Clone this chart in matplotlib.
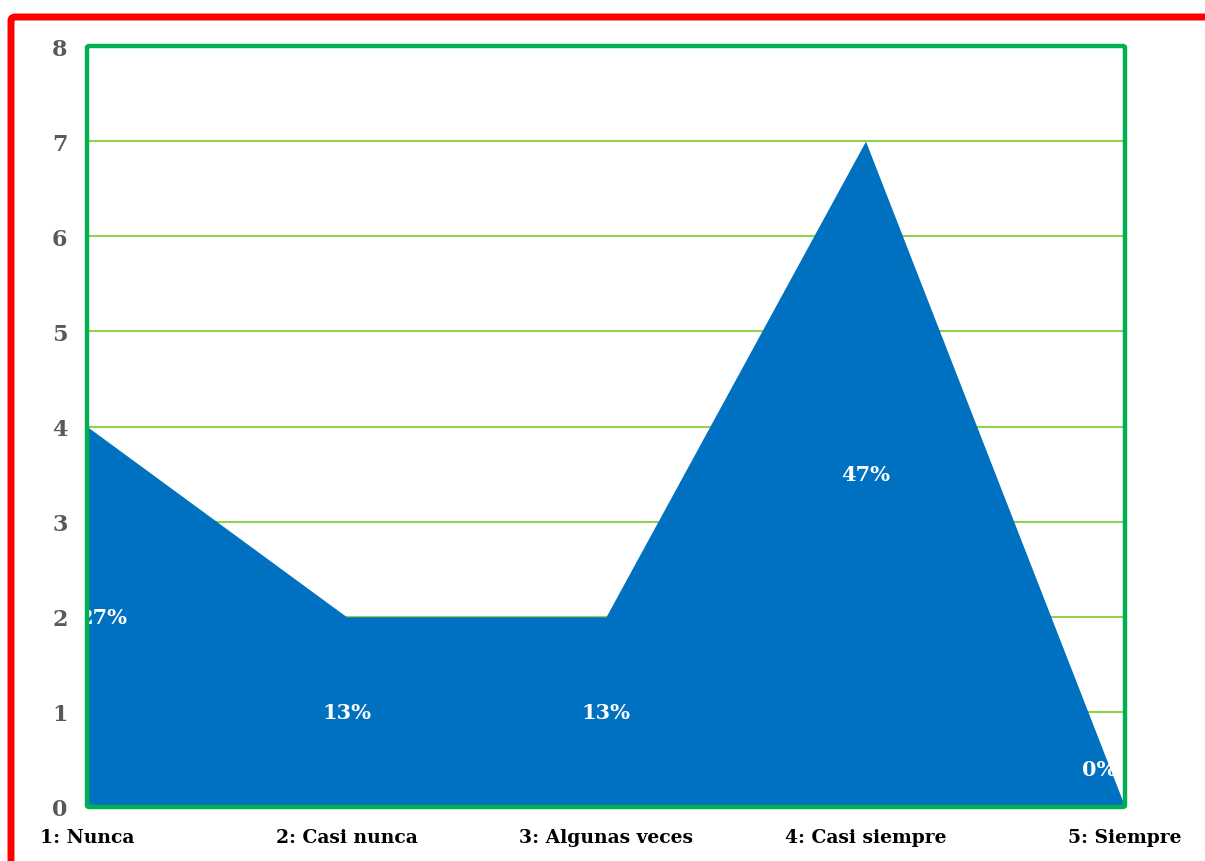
import matplotlib

matplotlib.use("Agg")
import matplotlib.pyplot as plt
from matplotlib.patches import FancyBboxPatch

categories = ["1: Nunca", "2: Casi nunca", "3: Algunas veces", "4: Casi siempre", "5: Siempre"]
counts = [4, 2, 2, 7, 0]
pct_labels = ["27%", "13%", "13%", "47%", "0%"]
# label anchor heights (data units) as placed in the original chart
label_y = [2.0, 1.0, 1.0, 3.5, 0.4]
label_dx = [0.06, 0.0, 0.0, 0.0, -0.1]

BLUE = "#0070C0"
GRID = "#92D050"
FRAME = "#00B050"
FONT = "DejaVu Serif"

fig = plt.figure(figsize=(12.05, 8.62), dpi=100)
ax = fig.add_axes([87 / 1205, 1 - 808 / 862, (1125 - 87) / 1205, (808 - 47) / 862])

x = list(range(len(categories)))
ax.fill_between(x, counts, 0, color=BLUE, linewidth=0, zorder=2)

for xi, yi, txt, dx in zip(x, label_y, pct_labels, label_dx):
    ax.text(xi + dx, yi, txt, ha="center", va="center", color="white",
            fontsize=15, fontweight="bold", family=FONT, zorder=3)

ax.set_xlim(0, 4)
ax.set_ylim(0, 8)
ax.set_yticks(range(0, 9))
ax.yaxis.grid(True, color=GRID, linewidth=1.5, zorder=1)
ax.set_axisbelow(True)
ax.set_xticks(x)
ax.set_xticklabels(categories)
ax.tick_params(axis="both", length=0)
ax.tick_params(axis="y", pad=14, colors="#595959")
ax.tick_params(axis="x", pad=15)
for lab in ax.get_yticklabels():
    lab.set_fontsize(16)
    lab.set_fontweight("bold")
    lab.set_family(FONT)
    lab.set_color("#595959")
for lab in ax.get_xticklabels():
    lab.set_fontsize(13.5)
    lab.set_fontweight("bold")
    lab.set_family(FONT)
    lab.set_color("black")

for side in ("top", "right", "left"):
    ax.spines[side].set_visible(False)
ax.spines["bottom"].set_color("#BFBFBF")
ax.spines["bottom"].set_linewidth(1.5)

# green plot-area frame
fig.patches.append(FancyBboxPatch(
    (87 / 1205, 1 - 808 / 862), (1125 - 87) / 1205, (808 - 47) / 862,
    boxstyle="round,pad=0,rounding_size=0.002", transform=fig.transFigure,
    fill=False, edgecolor=FRAME, linewidth=3.2, zorder=5))

# red outer border (runs off the right and bottom edges)
fig.patches.append(FancyBboxPatch(
    (11 / 1205, -0.05), 1.1, 1 - 18 / 862 + 0.05,
    boxstyle="round,pad=0,rounding_size=0.004", transform=fig.transFigure,
    fill=False, edgecolor="#FF0000", linewidth=5, zorder=5))

fig.savefig("out.png", dpi=100)
